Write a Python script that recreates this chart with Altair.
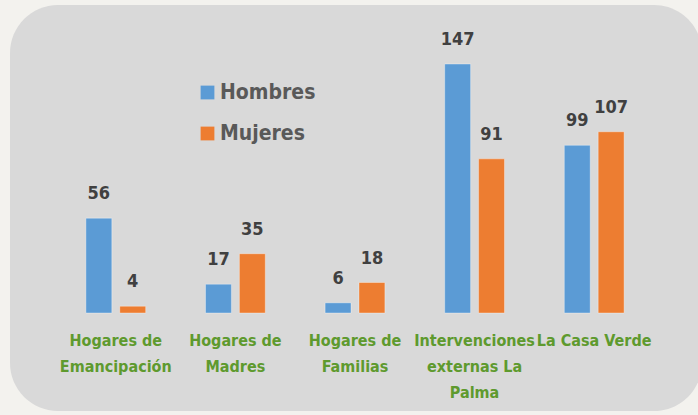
import altair as alt
import pandas as pd

categories = ["Hogares de Emancipación", "Hogares de Madres", "Hogares de Familias",
              "Intervenciones externas La Palma", "La Casa Verde"]
label_lines = ["Hogares de\nEmancipación", "Hogares de\nMadres", "Hogares de\nFamilias",
               "Intervenciones\nexternas La\nPalma", "La Casa Verde"]
hombres = [56, 17, 6, 147, 99]
mujeres = [4, 35, 18, 91, 107]
series = ["Hombres", "Mujeres"]
colors = ["#5B9BD5", "#ED7D31"]

rows = []
for c, h, m in zip(categories, hombres, mujeres):
    rows.append({"cat": c, "serie": "Hombres", "valor": h})
    rows.append({"cat": c, "serie": "Mujeres", "valor": m})
df = pd.DataFrame(rows)
lab = pd.DataFrame({"cat": categories, "label": label_lines})
bg = pd.DataFrame({"k": [0]})

FONT = "'DejaVu Sans Condensed', Roboto, sans-serif"

xs = alt.Scale(domain=categories, range=[56, 654], paddingInner=0.5, paddingOuter=0.25)
ys = alt.Scale(domain=[0, 147], range=[313, 64], nice=False)
xo = alt.Scale(domain=series, paddingInner=0.235, paddingOuter=0)

box = alt.Chart(bg).mark_rect(cornerRadius=48, color="#D9D9D9").encode(
    x=alt.value(10), x2=alt.value(702), y=alt.value(5), y2=alt.value(411)
)

bars = alt.Chart(df).mark_bar(stroke="#FFFFFF", strokeOpacity=0.35, strokeWidth=1).encode(
    x=alt.X("cat:N", scale=xs, axis=None, sort=categories),
    xOffset=alt.XOffset("serie:N", scale=xo),
    y=alt.Y("valor:Q", scale=ys, axis=None),
    y2=alt.datum(0),
    color=alt.Color("serie:N", scale=alt.Scale(domain=series, range=colors),
                    legend=alt.Legend(orient="none", legendX=197, legendY=82, title=None,
                                      symbolType="square", symbolSize=190, symbolStrokeWidth=0,
                                      labelFontSize=21, labelFontWeight="bold",
                                      labelColor="#595959", labelFont=FONT,
                                      rowPadding=19, labelOffset=2)),
)

vals = alt.Chart(df).mark_text(baseline="bottom", dy=-15, fontSize=18, fontWeight="bold",
                               color="#404040", font=FONT).encode(
    x=alt.X("cat:N", scale=xs, axis=None, sort=categories),
    xOffset=alt.XOffset("serie:N", scale=xo),
    y=alt.Y("valor:Q", scale=ys, axis=None),
    text="valor:Q",
)

cats = alt.Chart(lab).mark_text(baseline="top", dy=20, fontSize=16, fontWeight="bold",
                                color="#5E9A2E", font=FONT, lineBreak="\n", lineHeight=26).encode(
    x=alt.X("cat:N", scale=xs, axis=None, sort=categories),
    y=alt.datum(0),
    text="label:N",
)

chart = alt.layer(box, bars, vals, cats).properties(
    width=698, height=415, autosize=alt.AutoSizeParams(type="none"), padding=0,
    background="#F3F2EE",
).configure_view(stroke=None)

chart.save("out.html", embed_options={"renderer": "svg", "actions": False})
